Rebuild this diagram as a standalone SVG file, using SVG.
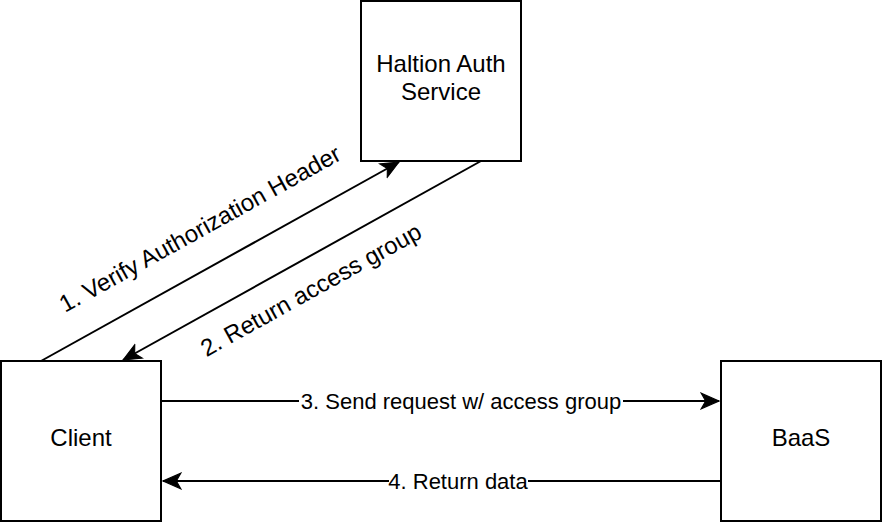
<svg xmlns="http://www.w3.org/2000/svg" width="882" height="522" viewBox="0 0 882 522">
<style>
.box{fill:#fff;stroke:#000;stroke-width:2}
.edge{fill:none;stroke:#000;stroke-width:2}
.nt{font-family:"Liberation Sans",Arial,sans-serif;font-size:24px;fill:#000;text-anchor:middle}
.et{font-family:"Liberation Sans",Arial,sans-serif;font-size:22px;fill:#000;text-anchor:middle}
.rt{font-family:"Liberation Sans",Arial,sans-serif;font-size:24px;fill:#000;text-anchor:middle}
</style>
<defs>
<marker id="arr" markerUnits="userSpaceOnUse" markerWidth="20" markerHeight="20" viewBox="-17 -8 18 16" refX="0" refY="0" orient="auto">
<path d="M0,0 L-16,-7 L-12,0 L-16,7 Z" fill="#000" stroke="#000" stroke-width="1"/>
</marker>
</defs>
<rect width="882" height="522" fill="#fff"/>
<g id="connectors">
<line class="edge" x1="41" y1="361" x2="399" y2="162" marker-end="url(#arr)"/>
<line class="edge" x1="481" y1="161" x2="123" y2="360" marker-end="url(#arr)"/>
<line class="edge" x1="161" y1="401" x2="719" y2="401" marker-end="url(#arr)"/>
<line class="edge" x1="721" y1="481" x2="163" y2="481" marker-end="url(#arr)"/>
<text class="rt" transform="translate(200,229) rotate(-29.05)" y="8">1. Verify Authorization Header</text>
<text class="rt" transform="translate(311,290) rotate(-29.05)" y="8">2. Return access group</text>
<rect x="299" y="390" width="324" height="22" fill="#fff"/>
<text class="et" x="461" y="409">3. Send request w/ access group</text>
<rect x="389" y="470" width="139" height="22" fill="#fff"/>
<text class="et" x="458" y="489">4. Return data</text>
</g>
<g id="auth">
<rect class="box" x="361" y="1" width="160" height="160"/>
<text class="nt" x="441" y="72">Haltion Auth</text>
<text class="nt" x="441" y="100">Service</text>
</g>
<g id="client">
<rect class="box" x="1" y="361" width="160" height="160"/>
<text class="nt" x="81" y="446">Client</text>
</g>
<g id="baas">
<rect class="box" x="721" y="361" width="160" height="160"/>
<text class="nt" x="801" y="446">BaaS</text>
</g>
</svg>
